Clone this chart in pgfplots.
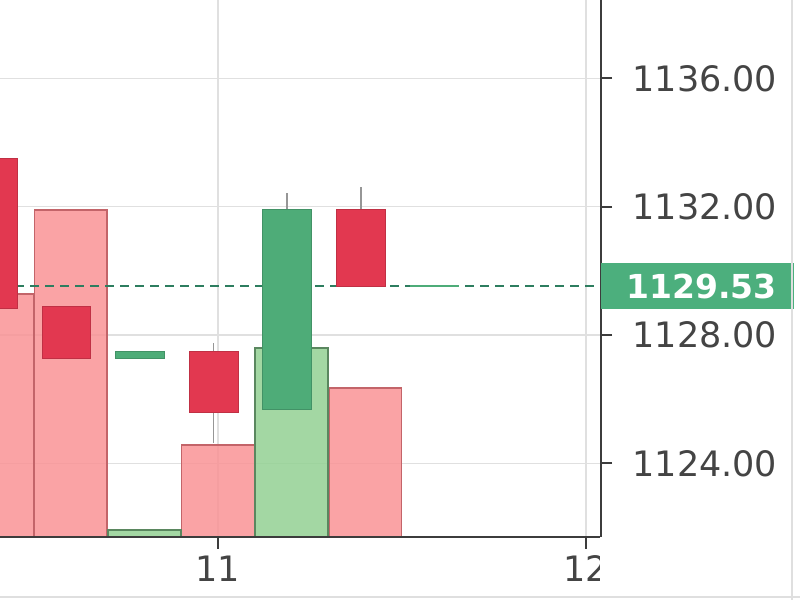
\documentclass[border=0pt]{standalone}
\usepackage{fontspec}
\setmainfont{DejaVu Sans}
\usepackage{pgfplots}
\pgfplotsset{compat=1.18}

\definecolor{gridgray}{RGB}{224,224,224}
\definecolor{axisdark}{RGB}{60,60,60}
\definecolor{labelgray}{RGB}{68,68,68}
\definecolor{volred}{RGB}{249,150,152}
\definecolor{volredline}{RGB}{195,100,105}
\definecolor{volgreen}{RGB}{150,210,150}
\definecolor{volgreenline}{RGB}{90,135,95}
\definecolor{candred}{RGB}{226,56,80}
\definecolor{candgreen}{RGB}{78,172,120}
\definecolor{lastgreen}{RGB}{76,175,125}
\definecolor{dashgreen}{RGB}{45,125,95}
\definecolor{wickgray}{RGB}{150,150,150}

\pgfplotsset{
  base/.style={scale only axis, width=601bp, height=537bp, at={(0,63bp)},
    xmin=10.4076, xmax=12.0408},
  price/.style={base, ymin=1121.71, ymax=1138.44},
  ticktext/.style={font=\fontsize{35bp}{40bp}\selectfont, text=labelgray},
  redbody/.style={fill=candred, draw=candred!85!black, line width=0.8bp},
  greenbody/.style={fill=candgreen, draw=candgreen!85!black, line width=0.8bp},
}

\begin{document}
\begin{tikzpicture}
\useasboundingbox (0,0) rectangle (800bp,600bp);
\clip (0,0) rectangle (800bp,600bp);

% grid
\begin{axis}[price, axis line style={draw=none}, major tick length=0pt,
    xtick={11,12}, ytick={1124,1128,1132,1136},
    xticklabel=\empty, yticklabel=\empty,
    grid=major, major grid style={line width=1.5bp, gridgray}]
\end{axis}

% volume
\begin{axis}[base, hide axis, ymin=0, ymax=537]
  \addplot[ybar, bar width=0.198, bar shift=0pt, fill=volred, fill opacity=0.88,
    draw=volredline, line width=1.6bp]
    coordinates {(10.4,243) (10.6,327) (11.0,92) (11.4,149)};
  \addplot[ybar, bar width=0.198, bar shift=0pt, fill=volgreen, fill opacity=0.88,
    draw=volgreenline, line width=1.6bp]
    coordinates {(10.8,7) (11.2,189)};
\end{axis}

% candles
\begin{axis}[price, axis y line=none, axis x line*=bottom,
    x axis line style={-, line width=2.5bp, axisdark},
    xtick={11,12}, xticklabels={11,12}, ytick=\empty,
    major tick length=12bp, tick align=outside,
    x tick style={axisdark, line width=2bp},
    xticklabel style={ticktext, yshift=-3bp}, unbounded coords=jump]
  \addplot[dash pattern=on 9bp off 6bp, line width=2.2bp, dashgreen]
    coordinates {(10.4076,1129.53) (12.0408,1129.53)};
  % wicks (high-low)
  \addplot[wickgray, line width=1.5bp] coordinates {
    (10.988,1124.64) (10.988,1127.76) (nan,nan)
    (11.188,1131.93) (11.188,1132.43) (nan,nan)
    (11.388,1131.93) (11.388,1132.61)};
  % bodies (open-close)
  \addplot[redbody] coordinates {(10.3215,1133.52) (10.4545,1133.52) (10.4545,1128.84) (10.3215,1128.84)} --cycle;
  \addplot[redbody] coordinates {(10.5215,1128.88) (10.6545,1128.88) (10.6545,1127.26) (10.5215,1127.26)} --cycle;
  \addplot[greenbody] coordinates {(10.7215,1127.26) (10.8545,1127.26) (10.8545,1127.50) (10.7215,1127.50)} --cycle;
  \addplot[redbody] coordinates {(10.9215,1127.50) (11.0545,1127.50) (11.0545,1125.60) (10.9215,1125.60)} --cycle;
  \addplot[greenbody] coordinates {(11.1215,1125.67) (11.2545,1125.67) (11.2545,1131.93) (11.1215,1131.93)} --cycle;
  \addplot[redbody] coordinates {(11.3215,1131.93) (11.4545,1131.93) (11.4545,1129.53) (11.3215,1129.53)} --cycle;
  \addplot[candgreen, line width=2bp] coordinates {(11.5215,1129.53) (11.6545,1129.53)};
\end{axis}

% price scale area
\fill[white] (599.5bp,0) rectangle (800bp,600bp);

\begin{axis}[price, clip=false, axis x line=none, axis y line*=right,
    y axis line style={-, line width=2.5bp, axisdark},
    ytick={1124,1128,1132,1136},
    yticklabels={1124.00,1128.00,1132.00,1136.00},
    major tick length=11bp, tick align=outside,
    y tick style={axisdark, line width=2bp},
    yticklabel style={ticktext, xshift=17bp}]
  \node[fill=lastgreen, text=white, anchor=west, inner sep=0pt,
    minimum width=193bp, minimum height=46bp,
    font=\bfseries\fontsize{33bp}{38bp}\selectfont]
    at (axis cs:12.0408,1129.53) {\hspace*{8bp}1129.53};
\end{axis}

\draw[gray!25, line width=2bp] (792bp,0) -- (792bp,600bp);
\draw[gray!25, line width=2bp] (0,3bp) -- (800bp,3bp);
\end{tikzpicture}
\end{document}
